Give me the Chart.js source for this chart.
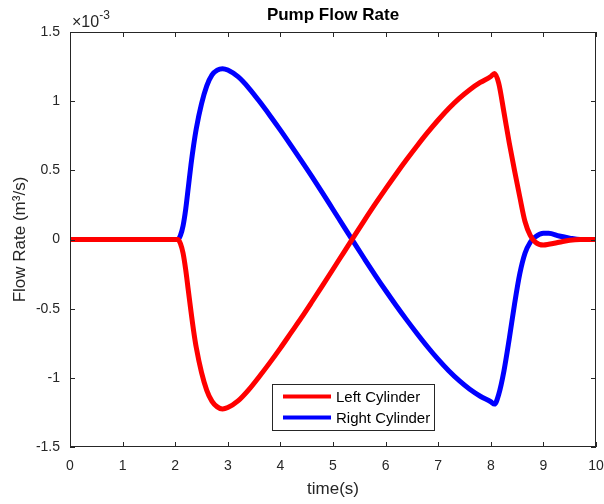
<!DOCTYPE html>
<html>
<head>
<meta charset="utf-8">
<script src="https://cdn.jsdelivr.net/npm/chart.js@4"></script>
<style>
  html, body { margin: 0; padding: 0; background: #fff; }
  #grafica { display: block; }
</style>
</head>
<body>
<canvas id="grafica" width="604" height="504"></canvas>
<script>
// ==============================
// DATOS (x10^-3 m^3/s)
// ==============================
const tiempo = [0, 1, 2, 2.05, 2.1, 2.15, 2.2, 2.25, 2.3, 2.35, 2.4, 2.5, 2.6, 2.7, 2.8, 2.9, 3.0, 3.2, 3.4, 3.6, 3.8, 4.0, 4.2, 4.4, 4.6, 4.8, 5.0, 5.2, 5.4, 5.6, 5.8, 6.0, 6.2, 6.4, 6.6, 6.8, 7.0, 7.2, 7.4, 7.6, 7.8, 8.0, 8.07, 8.15, 8.25, 8.35, 8.45, 8.55, 8.65, 8.75, 8.85, 9.0, 9.1, 9.3, 9.5, 9.7, 10];

const cilindroIzq = [0, 0, 0, 0, -0.03, -0.1, -0.22, -0.37, -0.52, -0.66, -0.78, -0.96, -1.09, -1.17, -1.21, -1.225, -1.215, -1.165, -1.085, -0.99, -0.89, -0.785, -0.675, -0.565, -0.45, -0.333, -0.215, -0.096, 0.023, 0.14, 0.255, 0.366, 0.474, 0.578, 0.678, 0.774, 0.864, 0.947, 1.02, 1.083, 1.135, 1.178, 1.2, 1.13, 0.92, 0.7, 0.5, 0.31, 0.13, 0.03, -0.02, -0.04, -0.035, -0.02, -0.005, 0, 0];

const cilindroDer = [0, 0, 0, 0, 0.03, 0.1, 0.22, 0.38, 0.54, 0.68, 0.8, 0.98, 1.11, 1.19, 1.225, 1.235, 1.225, 1.175, 1.095, 0.999, 0.897, 0.791, 0.681, 0.569, 0.455, 0.337, 0.217, 0.097, -0.023, -0.141, -0.257, -0.369, -0.477, -0.581, -0.681, -0.777, -0.867, -0.949, -1.021, -1.083, -1.133, -1.173, -1.19, -1.12, -0.95, -0.72, -0.47, -0.25, -0.1, -0.02, 0.02, 0.045, 0.045, 0.025, 0.01, 0, 0];

const ticksX = [0, 1, 2, 3, 4, 5, 6, 7, 8, 9, 10];
const ticksY = [-1.5, -1, -0.5, 0, 0.5, 1, 1.5];

const etiquetas = ["Left Cylinder", "Right Cylinder"];
const colores = ["#ff0000", "#0000ff"];

const FUENTE = "'Liberation Sans', Arial, sans-serif";
const GRIS = "#262626";

const puntos = (ys) => tiempo.map((t, i) => ({ x: t, y: ys[i] }));

// ==============================
// PLUGIN: caja, ticks internos, titulo, leyenda
// ==============================
const estiloMatlab = {
  id: "estiloMatlab",
  afterDraw(chart) {
    const { ctx, chartArea: a, scales } = chart;
    const sx = scales.x, sy = scales.y;
    ctx.save();

    // caja
    ctx.strokeStyle = GRIS;
    ctx.lineWidth = 1;
    ctx.strokeRect(a.left + 0.5, a.top + 0.5, a.right - a.left - 1, a.bottom - a.top - 1);

    // ticks hacia adentro
    const largo = 5;
    ctx.beginPath();
    ticksX.forEach(v => {
      const px = Math.round(sx.getPixelForValue(v)) + 0.5;
      ctx.moveTo(px, a.bottom); ctx.lineTo(px, a.bottom - largo);
      ctx.moveTo(px, a.top); ctx.lineTo(px, a.top + largo);
    });
    ticksY.forEach(v => {
      const py = Math.round(sy.getPixelForValue(v)) + 0.5;
      ctx.moveTo(a.left, py); ctx.lineTo(a.left + largo, py);
      ctx.moveTo(a.right, py); ctx.lineTo(a.right - largo, py);
    });
    ctx.stroke();

    // titulo
    ctx.fillStyle = "#000";
    ctx.font = "bold 17px " + FUENTE;
    ctx.textAlign = "center";
    ctx.textBaseline = "middle";
    ctx.fillText("Pump Flow Rate", (a.left + a.right) / 2, 15);

    // exponente x10^-3
    ctx.fillStyle = GRIS;
    ctx.textAlign = "left";
    ctx.textBaseline = "alphabetic";
    ctx.font = "16px " + FUENTE;
    ctx.fillText("\u00d710", a.left + 2, 27);
    const w = ctx.measureText("\u00d710").width;
    ctx.font = "12px " + FUENTE;
    ctx.fillText("-3", a.left + 2 + w, 19);

    // leyenda
    const lx = 272.5, ly = 384.5, lw = 162, lh = 46;
    ctx.fillStyle = "#fff";
    ctx.fillRect(lx, ly, lw, lh);
    ctx.strokeStyle = GRIS;
    ctx.strokeRect(lx, ly, lw, lh);
    ctx.font = "15px " + FUENTE;
    ctx.textBaseline = "middle";
    etiquetas.forEach((txt, i) => {
      const yy = ly + 12 + i * 21;
      ctx.strokeStyle = colores[i];
      ctx.lineWidth = 4;
      ctx.beginPath();
      ctx.moveTo(283, yy); ctx.lineTo(331, yy);
      ctx.stroke();
      ctx.fillStyle = "#000";
      ctx.fillText(txt, 336, yy + 1);
    });

    ctx.restore();
  }
};

// ==============================
// GRAFICA
// ==============================
new Chart(document.getElementById("grafica"), {
  type: "line",
  data: {
    datasets: [
      { label: etiquetas[0], data: puntos(cilindroIzq), borderColor: colores[0], borderWidth: 5, pointRadius: 0, cubicInterpolationMode: "monotone", fill: false },
      { label: etiquetas[1], data: puntos(cilindroDer), borderColor: colores[1], borderWidth: 5, pointRadius: 0, cubicInterpolationMode: "monotone", fill: false }
    ]
  },
  options: {
    responsive: false,
    animation: false,
    layout: { padding: { top: 32, right: 8, left: 0, bottom: 0 } },
    plugins: {
      legend: { display: false },
      tooltip: { enabled: false }
    },
    scales: {
      x: {
        type: "linear",
        min: 0, max: 10,
        afterFit: s => { s.height = 57; s.paddingLeft = 0; s.paddingRight = 0; },
        afterBuildTicks: s => { s.ticks = ticksX.map(v => ({ value: v })); },
        grid: { display: false, drawTicks: false },
        border: { display: false },
        ticks: { color: GRIS, font: { family: FUENTE, size: 14 }, padding: 11, maxRotation: 0, callback: v => String(v) },
        title: { display: true, text: "time(s)", color: GRIS, font: { family: FUENTE, size: 17 }, padding: { top: 0, bottom: 4 } }
      },
      y: {
        type: "linear",
        min: -1.5, max: 1.5,
        afterFit: s => { s.width = 70; s.paddingTop = 0; s.paddingBottom = 0; },
        afterBuildTicks: s => { s.ticks = ticksY.map(v => ({ value: v })); },
        grid: { display: false, drawTicks: false },
        border: { display: false },
        ticks: { color: GRIS, font: { family: FUENTE, size: 14 }, padding: 10, callback: v => String(v) },
        title: { display: true, text: "Flow Rate (m\u00b3/s)", color: GRIS, font: { family: FUENTE, size: 17 }, padding: { top: 10, bottom: 0 } }
      }
    }
  },
  plugins: [estiloMatlab]
});
</script>
</body>
</html>
